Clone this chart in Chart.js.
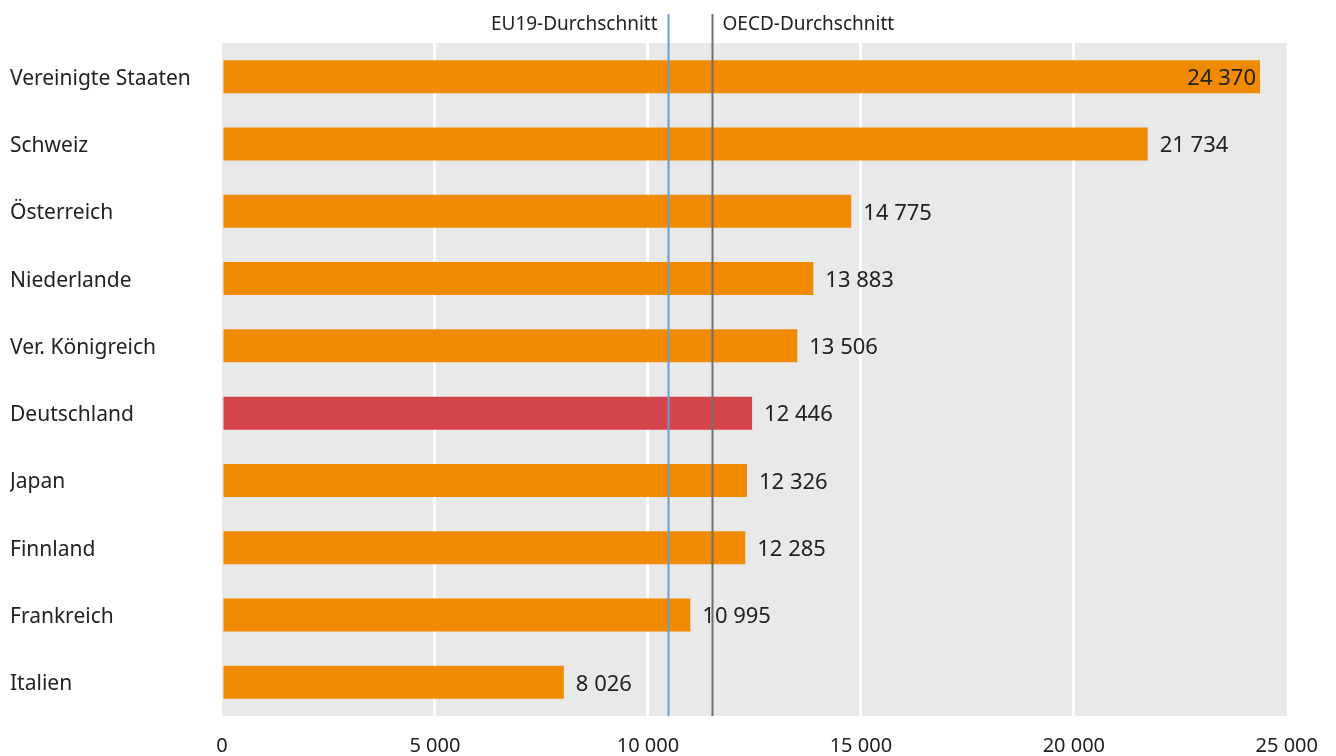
<!DOCTYPE html>
<html>
<head>
<meta charset="utf-8">
<script src="https://cdn.jsdelivr.net/npm/chart.js@4"></script>
<style>
  html, body { margin: 0; padding: 0; background: #fff; }
  #wrap { width: 1336px; height: 756px; }
</style>
</head>
<body>
<div id="wrap"><canvas id="myChart"></canvas></div>
<script>
var countries = ['Vereinigte Staaten', 'Schweiz', 'Österreich', 'Niederlande', 'Ver. Königreich',
                 'Deutschland', 'Japan', 'Finnland', 'Frankreich', 'Italien'];
var values = [24370, 21734, 14775, 13883, 13506, 12446, 12326, 12285, 10995, 8026];
var highlight = 'Deutschland';
var tickValues = [0, 5000, 10000, 15000, 20000, 25000];
var refLabels = ['EU19-Durchschnitt', 'OECD-Durchschnitt'];
var refValues = [10480, 11510];

var orange = '#f08a00';
var red = '#d5444b';
var fontName = '"Noto Sans", "Open Sans", sans-serif';

function fmt(v) {
  return String(v).replace(/\B(?=(\d{3})+(?!\d))/g, ' ');
}

var plotBg = {
  id: 'plotBg',
  beforeDraw: function(chart) {
    var a = chart.chartArea, c = chart.ctx;
    c.save();
    c.fillStyle = '#e8e9e8';
    c.fillRect(a.left, a.top, a.right - a.left, a.bottom - a.top);
    c.restore();
  }
};

var refLines = {
  id: 'refLines',
  afterDatasetsDraw: function(chart) {
    var c = chart.ctx, x = chart.scales.x, a = chart.chartArea;
    var colors = ['#6b9bd1', '#707070'];
    c.save();
    c.font = '19px ' + fontName;
    c.textBaseline = 'middle';
    c.fillStyle = '#222';
    refValues.forEach(function(v, i) {
      var px = Math.round(x.getPixelForValue(v)) + 0.5;
      c.strokeStyle = colors[i];
      c.lineWidth = 2;
      c.beginPath();
      c.moveTo(px, 14);
      c.lineTo(px, a.bottom);
      c.stroke();
      if (i === 0) {
        c.textAlign = 'right';
        c.fillText(refLabels[i], px - 11, 25);
      } else {
        c.textAlign = 'left';
        c.fillText(refLabels[i], px + 10, 25);
      }
    });
    c.restore();
  }
};

var valueLabels = {
  id: 'valueLabels',
  afterDraw: function(chart) {
    var c = chart.ctx, a = chart.chartArea;
    var meta = chart.getDatasetMeta(0);
    c.save();
    c.font = '22px ' + fontName;
    c.fillStyle = '#222';
    c.textBaseline = 'middle';
    meta.data.forEach(function(bar, i) {
      var txt = fmt(values[i]);
      var w = c.measureText(txt).width;
      if (bar.x + 12 + w > a.right) {
        c.textAlign = 'right';
        c.fillText(txt, bar.x - 4, bar.y + 2);
      } else {
        c.textAlign = 'left';
        c.fillText(txt, bar.x + 12, bar.y + 2);
      }
    });
    c.restore();
  }
};

var ctx = document.getElementById('myChart');
var myChart = new Chart(ctx, {
  type: 'bar',
  data: {
    labels: countries,
    datasets: [{
      data: values,
      backgroundColor: countries.map(function(c) { return c === highlight ? red : orange; }),
      borderWidth: 0,
      barPercentage: 0.49,
      categoryPercentage: 1.0
    }]
  },
  options: {
    indexAxis: 'y',
    responsive: true,
    maintainAspectRatio: false,
    animation: false,
    layout: { padding: { left: 10, right: 49, top: 43, bottom: 0 } },
    plugins: {
      legend: { display: false },
      tooltip: { enabled: false }
    },
    scales: {
      x: {
        min: 0,
        max: 25000,
        border: { display: false },
        afterBuildTicks: function(scale) {
          scale.ticks = tickValues.map(function(v) { return { value: v }; });
        },
        afterFit: function(scale) { scale.height = 40; },
        grid: {
          color: function(c) {
            return (c.tick && (c.tick.value === 0 || c.tick.value === 25000)) ? 'rgba(0,0,0,0)' : '#ffffff';
          },
          lineWidth: 3,
          drawTicks: false
        },
        ticks: {
          padding: 18,
          color: '#222',
          font: { family: fontName, size: 20 },
          maxRotation: 0,
          callback: function(v) { return fmt(v); }
        }
      },
      y: {
        border: { display: false },
        grid: { display: false },
        afterFit: function(scale) { scale.width = 212; },
        ticks: {
          crossAlign: 'far',
          padding: 0,
          labelOffset: 2,
          color: '#222',
          font: { family: fontName, size: 21 }
        }
      }
    }
  },
  plugins: [plotBg, refLines, valueLabels]
});
</script>
</body>
</html>
